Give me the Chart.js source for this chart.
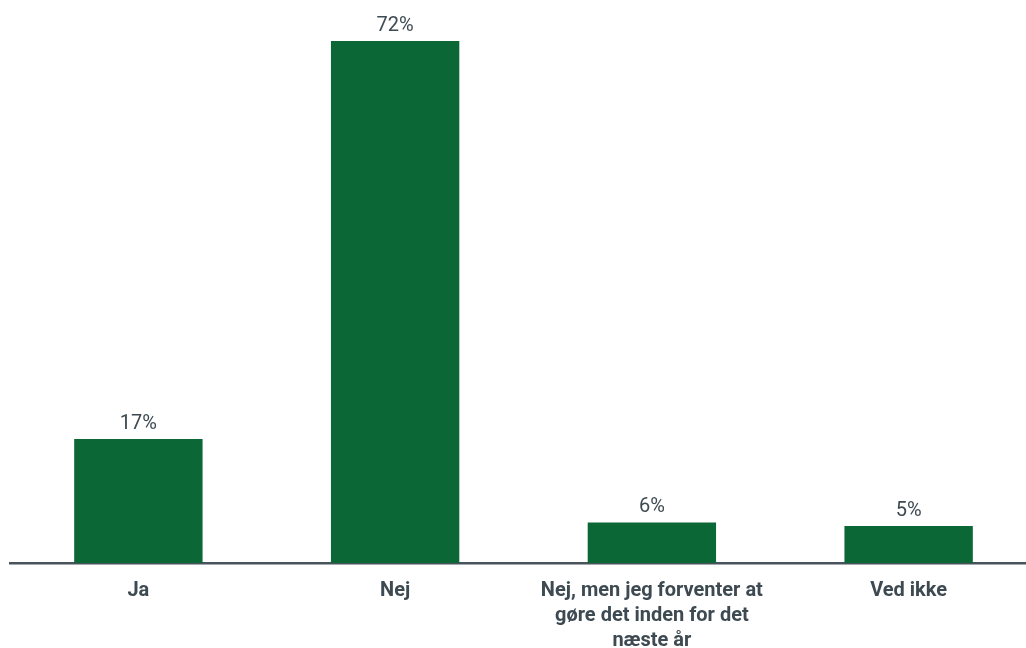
<!DOCTYPE html>
<html>
<head>
<meta charset="utf-8">
<script src="https://cdn.jsdelivr.net/npm/chart.js@4.4.1/dist/chart.umd.min.js"></script>
<style>
  html, body { margin: 0; padding: 0; background: #fff; overflow: hidden; }
  #wrap { position: absolute; left: 0; top: 0; width: 1040px; height: 648px; }
</style>
</head>
<body>
<div id="wrap"><canvas id="chart-answers"></canvas></div>
<script>
const categories = [
  "Ja",
  "Nej",
  ["Nej, men jeg forventer at", "gøre det inden for det", "næste år"],
  "Ved ikke"
];
const shares = [17.1, 72, 5.6, 5.1];

const BAR_COLOR = "#0b6736";
const TEXT_COLOR = "#3e4a52";

// value labels above the bars (no datalabels plugin available)
const valueLabels = {
  id: "valueLabels",
  afterDatasetsDraw(chart) {
    const ctx = chart.ctx;
    const meta = chart.getDatasetMeta(0);
    ctx.save();
    ctx.font = "20px Roboto";
    ctx.fillStyle = TEXT_COLOR;
    ctx.textAlign = "center";
    ctx.textBaseline = "alphabetic";
    meta.data.forEach((bar, i) => {
      ctx.fillText(Math.round(shares[i]) + "%", bar.x, bar.y - 10);
    });
    ctx.restore();
  }
};

new Chart(document.getElementById("chart-answers").getContext("2d"), {
  type: "bar",
  data: {
    labels: categories,
    datasets: [{
      data: shares,
      backgroundColor: BAR_COLOR,
      categoryPercentage: 1,
      barPercentage: 0.5
    }]
  },
  options: {
    responsive: true,
    maintainAspectRatio: false,
    animation: false,
    layout: { padding: { top: 41, left: 10, right: 3, bottom: 0 } },
    plugins: { legend: { display: false }, tooltip: { enabled: false } },
    scales: {
      x: {
        grid: { display: false },
        border: { color: "#48535b", width: 2.5 },
        ticks: {
          color: TEXT_COLOR,
          font: { family: "Roboto", size: 20, weight: "bold", lineHeight: 1.25 },
          padding: 7,
          maxRotation: 0,
          autoSkip: false
        },
        afterFit(axis) { axis.height = 85; }
      },
      y: {
        display: false,
        min: 0,
        max: 72
      }
    }
  },
  plugins: [valueLabels]
});
</script>
</body>
</html>
